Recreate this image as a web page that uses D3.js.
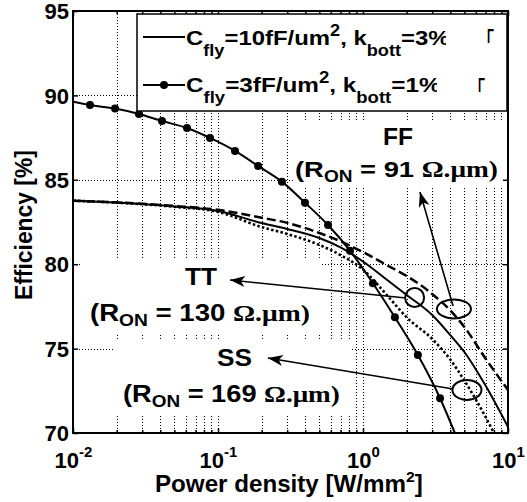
<!DOCTYPE html>
<html>
<head>
<meta charset="utf-8">
<script src="https://cdn.jsdelivr.net/npm/d3@7"></script>
<style>
  html, body { margin: 0; padding: 0; background: #fff; }
  svg { display: block; }
  text { font-family: "Liberation Sans", Arial, sans-serif; font-weight: bold; fill: #000; }
  .serif { font-family: "Liberation Serif", "Times New Roman", serif; }
</style>
</head>
<body>
<svg id="chart" width="527" height="502"></svg>
<script>
// power density (W/mm^2) and efficiency (%)
const power = [0.01, 0.02, 0.05, 0.1, 0.2, 0.3, 0.5, 0.7, 1, 1.5, 2, 3, 4, 5, 7, 10];
const effFF = [83.76, 83.66, 83.45, 83.22, 82.75, 82.45, 81.85, 81.36, 80.72, 79.89, 79.3, 78.24, 77.26, 76.28, 74.41, 72.55];
const effTT = [83.76, 83.65, 83.42, 83.15, 82.44, 82.09, 81.55, 80.99, 80.16, 79.0, 78.18, 76.99, 75.8, 74.8, 72.81, 70.36];
const powerSS = [0.01, 0.02, 0.05, 0.1, 0.2, 0.3, 0.5, 0.7, 1, 1.5, 2, 3, 4, 5, 7, 8];
const effSS = [83.76, 83.65, 83.4, 83.1, 82.2, 81.79, 81.14, 80.54, 79.68, 78.06, 76.85, 75.57, 74.35, 73.11, 70.95, 70.0];
// 3fF/um^2 curve: one entry per marker, plus both ends
const powerLow = [0.01, 0.0131, 0.0195, 0.0285, 0.0411, 0.0611, 0.0881, 0.131, 0.189, 0.276, 0.398, 0.574, 0.813, 1.17, 1.66, 2.39, 3.4, 4.3];
const effLow = [89.62, 89.43, 89.22, 88.9, 88.48, 88.07, 87.48, 86.71, 85.82, 84.89, 83.64, 82.32, 80.8, 78.87, 76.85, 74.62, 72.06, 70.0];
const yTicks = [70, 75, 80, 85, 90, 95];
const xTicks = [0.01, 0.1, 1, 10];
const corners = ['FF', 'TT', 'SS'];
const ronValues = [91, 130, 169];
// ellipse centres and arrow tips, in data units [power, efficiency]
const circleAt = [[4.24, 77.35], [2.27, 78.03], [5.21, 72.55]];
const arrowFrom = [[4.18, 77.52], [1.98, 78.0], [4.18, 72.61]];
const arrowTo = [[2.47, 84.28], [0.121, 79.06], [0.221, 74.44]];

const svg = d3.select('#chart');
const plot = { left: 73, right: 508, top: 11, bottom: 433 };
const x = d3.scaleLog().domain([0.01, 10]).range([plot.left, plot.right]);
const y = d3.scaleLinear().domain([70, 95]).range([plot.bottom, plot.top]);

const isDecade = v => Math.abs(Math.log10(v) - Math.round(Math.log10(v))) < 1e-6;
const minorTicks = x.ticks().filter(v => !isDecade(v));

// squeeze / stretch a text horizontally so it spans x0..x1
const fitText = (t, x0, x1) => {
  const bb = t.node().getBBox();
  const s = (x1 - x0) / bb.width;
  t.attr('transform', `translate(${x0 - bb.x * s},0) scale(${s},1)`);
};

const richText = (parent, parts, size, baseline) => {
  const t = parent.append('text').attr('font-size', size).attr('y', baseline);
  parts.forEach(p => {
    t.append('tspan')
      .attr('font-size', p.size || size)
      .attr('dy', p.dy || 0)
      .attr('class', p.cls || null)
      .text(p.t);
  });
  return t;
};

svg.append('defs').append('clipPath').attr('id', 'plotClip')
  .append('rect')
  .attr('x', plot.left).attr('y', plot.top)
  .attr('width', plot.right - plot.left).attr('height', plot.bottom - plot.top);

// dotted grid
const grid = svg.append('g')
  .attr('stroke', '#000').attr('stroke-width', 1)
  .attr('stroke-dasharray', '1,2').attr('shape-rendering', 'crispEdges');
grid.selectAll('line.v')
  .data(x.ticks().filter(v => v > 0.01 && v < 10))
  .join('line')
  .attr('x1', d => Math.round(x(d)) + 0.5).attr('x2', d => Math.round(x(d)) + 0.5)
  .attr('y1', plot.top).attr('y2', plot.bottom);
grid.selectAll('line.h')
  .data(yTicks.filter(v => v > 70 && v < 95))
  .join('line')
  .attr('y1', d => Math.round(y(d)) + 0.5).attr('y2', d => Math.round(y(d)) + 0.5)
  .attr('x1', plot.left).attr('x2', plot.right);

// white boxes behind the annotations
const boxes = [
  { x: 293, y: 121, w: 210, h: 66 },
  { x: 81, y: 258, w: 241, h: 75 },
  { x: 114, y: 340, w: 238, h: 75 },
];
svg.append('g').selectAll('rect').data(boxes).join('rect')
  .attr('x', d => d.x).attr('y', d => d.y).attr('width', d => d.w).attr('height', d => d.h)
  .attr('fill', '#fff');

// curves
const line = d3.line().x(d => x(d[0])).y(d => y(d[1])).curve(d3.curveMonotoneX);
const curves = svg.append('g').attr('clip-path', 'url(#plotClip)').attr('fill', 'none').attr('stroke', '#000');
curves.append('path').datum(d3.zip(power, effFF))
  .attr('d', line).attr('stroke-width', 2.5).attr('stroke-dasharray', '9,4');
curves.append('path').datum(d3.zip(power, effTT))
  .attr('d', line).attr('stroke-width', 2);
curves.append('path').datum(d3.zip(powerSS, effSS))
  .attr('d', line).attr('stroke-width', 2.6).attr('stroke-dasharray', '2.5,2.3');
const lowData = d3.zip(powerLow, effLow);
curves.append('path').datum(lowData).attr('d', line).attr('stroke-width', 2);
svg.append('g').selectAll('circle')
  .data(lowData.slice(1, -1))
  .join('circle')
  .attr('cx', d => x(d[0])).attr('cy', d => y(d[1])).attr('r', 4).attr('fill', '#000');

// ellipses and arrows
const ellipseSize = [[17, 9.5], [9.5, 9.5], [14.5, 10]];
svg.append('g').selectAll('ellipse').data(circleAt).join('ellipse')
  .attr('cx', d => x(d[0])).attr('cy', d => y(d[1]))
  .attr('rx', (d, i) => ellipseSize[i][0]).attr('ry', (d, i) => ellipseSize[i][1])
  .attr('fill', 'none').attr('stroke', '#000').attr('stroke-width', 2);

svg.select('defs').append('marker')
  .attr('id', 'head').attr('markerUnits', 'userSpaceOnUse')
  .attr('viewBox', '-16 -7 18 14').attr('markerWidth', 18).attr('markerHeight', 14)
  .attr('refX', 0).attr('refY', 0).attr('orient', 'auto')
  .append('path').attr('d', 'M0,0 L-15,-5.5 L-11,0 L-15,5.5 Z').attr('fill', '#000');
svg.append('g').selectAll('line').data(corners).join('line')
  .attr('x1', (d, i) => x(arrowFrom[i][0])).attr('y1', (d, i) => y(arrowFrom[i][1]))
  .attr('x2', (d, i) => x(arrowTo[i][0])).attr('y2', (d, i) => y(arrowTo[i][1]))
  .attr('stroke', '#000').attr('stroke-width', 1.6).attr('marker-end', 'url(#head)');

// annotation text
const labelPos = [
  { name: [383, 413, 145], ron: [295, 498, 177] },
  { name: [185, 217, 285], ron: [90, 310, 321] },
  { name: [217, 252, 366], ron: [123, 340, 402] },
];
corners.forEach((c, i) => {
  const p = labelPos[i];
  const t1 = richText(svg, [{ t: c }], 23, p.name[2]);
  fitText(t1, p.name[0], p.name[1]);
  const t2 = richText(svg, [
    { t: '(R' },
    { t: 'ON', size: 16, dy: 5 },
    { t: ` = ${ronValues[i]} `, dy: -5 },
    { t: 'Ω.μm)', cls: 'serif' },
  ], 23, p.ron[2]);
  fitText(t2, p.ron[0], p.ron[1]);
});

// axes frame and ticks
const axisStyle = g => {
  g.select('.domain').remove();
  g.selectAll('.tick line').attr('stroke-width', 1.5);
  g.attr('font-size', 22).attr('font-family', null);
};
svg.append('g').attr('transform', `translate(0,${plot.bottom})`)
  .call(d3.axisBottom(x).tickValues(xTicks).tickSize(-5).tickFormat(''))
  .call(axisStyle)
  .call(g => g.selectAll('.tick text').each(function (d) {
    const t = d3.select(this).attr('y', 35).attr('dy', null);
    t.append('tspan').text('10');
    t.append('tspan').attr('font-size', 15).attr('dy', -11).text(Math.round(Math.log10(d)));
  }));
svg.append('g').attr('transform', `translate(0,${plot.bottom})`)
  .call(d3.axisBottom(x).tickValues(minorTicks).tickSize(-3).tickFormat(''))
  .call(axisStyle).call(g => g.selectAll('text').remove());
svg.append('g').attr('transform', `translate(0,${plot.top})`)
  .call(d3.axisTop(x).tickValues(xTicks).tickSize(-5).tickFormat(''))
  .call(axisStyle).call(g => g.selectAll('text').remove());
svg.append('g').attr('transform', `translate(0,${plot.top})`)
  .call(d3.axisTop(x).tickValues(minorTicks).tickSize(-3).tickFormat(''))
  .call(axisStyle).call(g => g.selectAll('text').remove());
svg.append('g').attr('transform', `translate(${plot.left},0)`)
  .call(d3.axisLeft(y).tickValues(yTicks).tickSize(-5).tickPadding(4))
  .call(axisStyle)
  .call(g => g.selectAll('.tick text').attr('dy', '0.35em'));
svg.append('g').attr('transform', `translate(${plot.right},0)`)
  .call(d3.axisRight(y).tickValues(yTicks).tickSize(-5).tickFormat(''))
  .call(axisStyle).call(g => g.selectAll('text').remove());

svg.append('rect')
  .attr('x', plot.left).attr('y', plot.top)
  .attr('width', plot.right - plot.left).attr('height', plot.bottom - plot.top)
  .attr('fill', 'none').attr('stroke', '#000').attr('stroke-width', 2);

// axis titles
const xTitle = richText(svg, [
  { t: 'Power density [W/mm' },
  { t: '2', size: 15, dy: -10 },
  { t: ']', dy: 10 },
], 23, 492);
fitText(xTitle, 155, 423);
const yTitleG = svg.append('g').attr('transform', 'translate(31.5,300) rotate(-90)');
const yTitle = richText(yTitleG, [{ t: 'Efficiency [%]' }], 23, 0);
fitText(yTitle, 0, 150);

// legend
const legend = svg.append('g');
legend.append('rect')
  .attr('x', 137).attr('y', 14).attr('width', 370).attr('height', 97)
  .attr('fill', '#fff').attr('stroke', '#000').attr('stroke-width', 1.5);
const legendRows = [
  { cap: '10', k: '3', lineY: 37, base: 45, x1: 450, clip: 446, gam: [487, 494, 43.5], marker: false },
  { cap: '3', k: '1', lineY: 85, base: 92, x1: 441, clip: 437, gam: [478, 485, 92], marker: true },
];
legendRows.forEach((r, i) => {
  legend.append('line')
    .attr('x1', 143).attr('x2', 185).attr('y1', r.lineY).attr('y2', r.lineY)
    .attr('stroke', '#000').attr('stroke-width', 2);
  if (r.marker) {
    legend.append('circle').attr('cx', 164).attr('cy', r.lineY).attr('r', 4).attr('fill', '#000');
  }
  svg.select('defs').append('clipPath').attr('id', `legClip${i}`)
    .append('rect').attr('x', 137).attr('y', r.lineY - 30).attr('width', r.clip - 137).attr('height', 60);
  const holder = legend.append('g').attr('clip-path', `url(#legClip${i})`);
  const t = richText(holder, [
    { t: 'C' },
    { t: 'fly', size: 16, dy: 11 },
    { t: `=${r.cap}fF/um`, dy: -11 },
    { t: '2', size: 16, dy: -8.5 },
    { t: ', k', dy: 8.5 },
    { t: 'bott', size: 16, dy: 11 },
    { t: `=${r.k}%`, dy: -11 },
  ], 21, r.base);
  fitText(t, 186, r.x1);
  const g = richText(legend, [{ t: 'Γ' }], 21, r.gam[2]);
  fitText(g, r.gam[0], r.gam[1]);
});
</script>
</body>
</html>
